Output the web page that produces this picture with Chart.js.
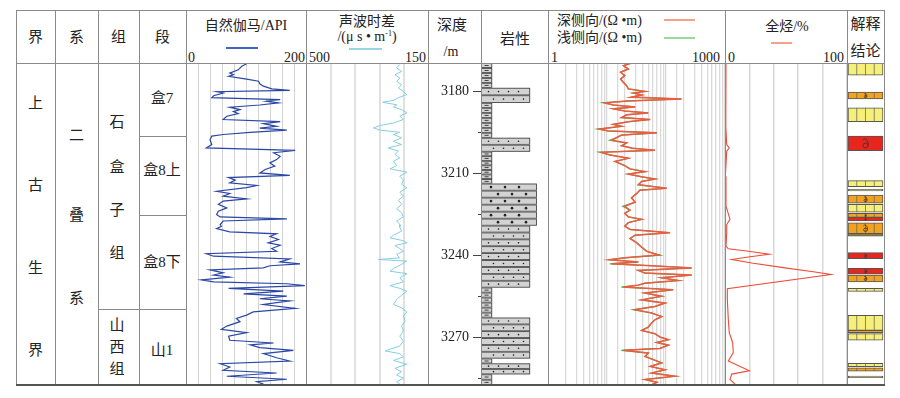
<!DOCTYPE html>
<html>
<head>
<meta charset="utf-8">
<title>测井综合解释图</title>
<script src="https://cdn.jsdelivr.net/npm/chart.js@4.4.1/dist/chart.umd.min.js"></script>
<style>
  body { margin: 0; background: #fff; }
  #page { position: relative; width: 900px; height: 398px; overflow: hidden;
          font-family: "Liberation Serif", "Noto Sans CJK SC", serif; color: #222; }
  .track { position: absolute; top: 63px; height: 322px; }
  .vl { position: absolute; top: 10px; height: 375px; width: 1px; background: #8a8a8a; z-index: 5; }
  .hl { position: absolute; height: 1px; background: #8a8a8a; z-index: 5; }
  .t { position: absolute; font-size: 15px; line-height: 1; white-space: nowrap; transform: translate(-50%, -50%); }
  .l { position: absolute; font-size: 14px; line-height: 1; white-space: nowrap; transform: translateY(-50%); }
  .r { position: absolute; font-size: 14px; line-height: 1; white-space: nowrap; transform: translate(-100%, -50%); }
  .key { position: absolute; height: 2px; }
</style>
</head>
<body>
<div id="page">
  <!-- header -->
  <div class="t" style="left:35.5px;top:37px">界</div>
  <div class="t" style="left:76.5px;top:37px">系</div>
  <div class="t" style="left:118.5px;top:37px">组</div>
  <div class="t" style="left:162.5px;top:37px">段</div>

  <div class="t" style="left:246px;top:26px;font-size:14px">自然伽马/API</div>
  <div class="key" style="left:226px;top:47px;width:32px;background:#4263c4"></div>
  <div class="l" style="left:188px;top:58px">0</div>
  <div class="r" style="left:305px;top:58px">200</div>

  <div class="t" style="left:367px;top:22px;font-size:14px">声波时差</div>
  <div class="t" style="left:367px;top:37px;font-size:14px">/(μ s • m<sup style="font-size:8px">-1</sup>)</div>
  <div class="key" style="left:349px;top:48px;width:33px;background:#9ad4e4"></div>
  <div class="l" style="left:309px;top:58px">500</div>
  <div class="r" style="left:426px;top:58px">150</div>

  <div class="t" style="left:452px;top:25px">深度</div>
  <div class="t" style="left:451px;top:52px;font-size:14px">/m</div>

  <div class="t" style="left:515px;top:39px">岩性</div>

  <div class="l" style="left:557px;top:21px">深侧向/(Ω •m)</div>
  <div class="key" style="left:664px;top:19px;width:31px;background:#f4a08a"></div>
  <div class="l" style="left:557px;top:38px">浅侧向/(Ω •m)</div>
  <div class="key" style="left:664px;top:37px;width:31px;background:#9bd89b"></div>
  <div class="l" style="left:551px;top:58px">1</div>
  <div class="r" style="left:720px;top:58px">1000</div>

  <div class="t" style="left:787px;top:27px;font-size:14px">全烃/%</div>
  <div class="key" style="left:771px;top:42px;width:21px;background:#f4a08a"></div>
  <div class="l" style="left:728px;top:58px">0</div>
  <div class="r" style="left:844px;top:58px">100</div>

  <div class="t" style="left:865.5px;top:24px">解释</div>
  <div class="t" style="left:865.5px;top:51px">结论</div>

  <!-- stratigraphy -->
  <div class="t" style="left:35.5px;top:103px">上</div>
  <div class="t" style="left:35.5px;top:185px">古</div>
  <div class="t" style="left:35.5px;top:268px">生</div>
  <div class="t" style="left:35.5px;top:350px">界</div>
  <div class="t" style="left:76.5px;top:135px">二</div>
  <div class="t" style="left:76.5px;top:215px">叠</div>
  <div class="t" style="left:76.5px;top:298px">系</div>
  <div class="t" style="left:117px;top:122px">石</div>
  <div class="t" style="left:117px;top:167px">盒</div>
  <div class="t" style="left:117px;top:210px">子</div>
  <div class="t" style="left:117px;top:253px">组</div>
  <div class="t" style="left:117px;top:325px">山</div>
  <div class="t" style="left:117px;top:347px">西</div>
  <div class="t" style="left:117px;top:369px">组</div>
  <div class="t" style="left:162px;top:98px">盒7</div>
  <div class="t" style="left:162px;top:170px">盒8上</div>
  <div class="t" style="left:162px;top:262px">盒8下</div>
  <div class="t" style="left:162px;top:350px">山1</div>

  <!-- tracks -->
  <div class="track" style="left:186px;width:120px"><canvas id="gamma"></canvas></div>
  <div class="track" style="left:306px;width:123px"><canvas id="sonic"></canvas></div>
  <div class="track" style="left:428px;width:120px"><canvas id="litho"></canvas></div>
  <div class="track" style="left:548px;width:177px"><canvas id="resist"></canvas></div>
  <div class="track" style="left:725px;width:122px"><canvas id="thc"></canvas></div>
  <div class="track" style="left:847px;width:37px"><canvas id="interp"></canvas></div>
</div>

<script>
// depth window of the plot, metres
const depthTop = 3169.5;
const depthBase = 3287.5;
const depthLabels = [3180, 3210, 3240, 3270];
const depthMinor = [3195, 3225, 3255, 3285];

// natural gamma, API
const gammaDepth = [3169.8,3170.7,3172.0,3173.2,3173.8,3174.4,3175.4,3176.2,3177.1,3178.0,3179.0,3179.5,3180.0,3180.5,3181.5,3182.2,3182.9,3183.5,3184.1,3184.9,3185.7,3186.6,3187.3,3188.0,3189.0,3190.2,3191.0,3191.7,3192.7,3193.4,3194.1,3194.9,3195.7,3196.3,3197.6,3199.4,3200.6,3201.5,3202.4,3203.7,3204.9,3206.1,3207.3,3208.5,3209.8,3210.7,3211.5,3212.4,3213.4,3214.4,3215.2,3216.5,3217.3,3218.3,3219.3,3220.1,3221.3,3222.6,3223.8,3225.0,3225.9,3226.6,3227.4,3228.7,
  3229.3,3230.2,3231.4,3232.1,3233.1,3234.2,3235.4,3236.3,3237.5,3238.5,3239.4,3240.3,3241.3,3242.4,3243.1,3243.8,3244.6,3245.3,3246.4,3247.2,3248.0,3249.0,3249.7,3250.4,3251.1,3252.1,3253.1,3254.1,3254.9,3255.9,3256.7,3258.0,3259.4,3260.7,3261.9,3263.1,3264.3,3265.9,3267.1,3268.3,3269.6,3271.1,3272.1,3272.8,3273.8,3274.8,3276.0,3277.5,3278.7,3279.7,3280.9,3282.1,3283.1,3284.3,3285.4,3286.3,3287.2];
const gammaValue = [101,93,87,73,79,71,101,121,123,129,143,173,51,62,46,43,157,134,154,123,73,90,79,87,68,62,157,129,151,123,168,107,62,43,40,43,34,182,146,157,151,140,148,132,123,173,71,82,73,118,101,51,73,62,101,62,54,68,54,51,57,168,62,57,
  59,51,73,151,140,154,137,157,143,151,34,46,173,157,190,140,129,40,62,46,73,26,46,168,198,71,162,96,168,123,173,129,182,112,101,84,90,68,59,101,71,73,146,107,123,179,129,151,173,57,73,62,151,68,168,118,129];

// acoustic slowness, µs/m
const sonicDepth = [3170.1,3171.3,3172.6,3173.8,3175.0,3176.2,3177.4,3178.7,3179.9,3181.1,3182.0,3183.2,3183.9,3184.8,3185.6,3186.6,3187.8,3189.0,3190.2,3191.5,3192.4,3193.3,3194.1,3194.9,3195.7,3196.9,3198.2,3199.4,3200.6,3201.8,3203.0,3204.3,3205.5,3207.1,3208.3,3209.5,3211.0,3212.4,3214.0,3215.2,3216.8,3218.3,3219.8,3221.3,3222.9,3224.4,3225.9,3227.4,3228.7,
  3229.7,3231.1,3232.6,3233.6,3234.6,3235.4,3236.4,3237.5,3238.5,3239.7,3240.9,3241.5,3242.1,3243.3,3244.8,3245.8,3246.7,3248.2,3249.7,3251.1,3252.1,3253.1,3254.6,3256.1,3258.0,3259.2,3260.7,3262.2,3264.1,3265.9,3267.7,3269.6,3271.4,3273.2,3275.0,3276.0,3277.2,3278.5,3279.9,3281.4,3282.6,3283.8,3285.0,3286.3,3287.2];
const sonicValue = [233,242,228,247,233,242,228,237,223,213,233,251,282,242,251,228,213,233,223,251,289,308,289,233,251,228,251,228,266,237,247,233,251,242,261,213,233,223,228,213,233,223,237,228,242,228,223,242,233,
  233,228,251,261,223,213,247,233,223,242,233,294,213,228,251,261,213,233,223,261,233,213,228,242,251,228,213,223,218,228,223,233,223,233,275,233,223,251,213,247,228,242,223,242,233];

// laterolog resistivity, ohm·m
const resDepth = [3169.5,3170.5,3171.7,3172.9,3174.1,3175.4,3176.6,3177.8,3179.0,3179.9,3180.5,3181.2,3182.0,3182.7,3183.4,3184.1,3184.9,3185.6,3186.3,3187.1,3187.8,3188.5,3189.5,3190.2,3191.0,3192.0,3192.7,3193.7,3194.4,3195.1,3195.9,3196.8,3197.8,3198.8,3199.8,3200.7,3201.5,3202.2,3203.2,3204.4,3205.6,3207.1,3208.3,3209.3,3210.2,3211.2,3212.0,3212.9,3214.1,3215.4,3216.1,3217.3,3218.9,3220.5,3222.0,3223.4,3224.6,3225.9,3226.8,3228.0,3229.3,
  3230.5,3231.7,3232.6,3233.8,3235.4,3237.0,3238.5,3239.9,3240.9,3241.6,3242.4,3243.1,3243.8,3244.6,3245.5,3246.5,3247.2,3248.2,3249.2,3250.2,3250.9,3251.6,3252.6,3253.8,3255.0,3256.3,3257.5,3258.7,3259.9,3261.1,3262.4,3263.6,3264.8,3266.3,3267.5,3268.7,3269.9,3270.9,3271.9,3272.9,3274.1,3274.8,3275.8,3277.0,3278.2,3279.4,3280.7,3281.9,3283.1,3284.3,3285.5,3286.5,3287.5];
const resDeep = [26,19,23,17,20,17,19,21.5,23,44,28,39,26,184,23,9.3,12.8,30,12.8,20,50,21.5,17.7,54,23,12.8,17.7,7.6,10.5,70,17.7,14.7,12,21.5,17.7,27,65,8.1,11.2,23,13.7,20,24.5,44,23,38.7,65,38.7,34,103,36,32,26,30,20,24.5,20,23,38.7,23,20,
  24.5,117,30,24.5,32,38.7,47,74,20,11.2,34,12,57,272,34,44,272,84.5,162,44,34,19,133,44,84.5,38.7,96,65,30,57,84.5,65,57,50,38.7,65,79,110,70,110,79,19,50,44,61,84.5,54,96,57,142,44,70,57];
const resShallow = [26,19,23,17,20,17,19,21.5,23,44,28,39,26,184,23,8.6,12.8,30,12.8,20,50,21.5,17.7,54,23,12.8,17.7,7.0,10.5,70,17.7,14.7,11.2,21.5,17.7,27,65,7.5,11.2,23,13.7,20,24.5,44,23,38.7,65,38.7,34,103,36,32,26,30,18.5,24.5,20,23,38.7,23,20,
  24.5,117,30,24.5,32,38.7,47,80,20,10.3,34,11.2,57,272,34,44,272,84.5,162,44,34,17.5,133,44,84.5,38.7,96,65,28,57,84.5,65,57,50,38.7,65,79,110,70,110,79,17.5,50,44,61,84.5,54,96,57,142,44,70,57];

// total hydrocarbon, %
const thcDepth = [3169.8,3180.5,3192.7,3199.4,3200.6,3201.8,3211.0,3222.0,3226.8,3228.7,3231.7,3236.6,3237.6,3238.4,3239.6,3240.5,3241.5,3242.9,3244.5,3246.0,3247.0,3252.2,3256.1,3263.4,3268.3,3272.0,3275.6,3278.7,3282.3,3283.5,3285.4,3287.2];
const thcValue = [0.8,0.5,0.8,1.4,3.5,1.4,0.3,0.8,4.1,1.4,1.4,0.8,2.7,17.8,36.3,20.5,5.5,23.2,47.8,72.4,86.9,1.9,1.9,2.7,3.5,6.3,6.8,2.7,20,5.5,4.1,8.2];

// lithology intervals
const lithoTop  = [3169.5,3178.6,3184.1,3196.9,3202.0,3213.7,3229.1,3251.8,3262.8,3277.8,3279.6,3283.6];
const lithoBase = [3178.6,3184.1,3196.9,3202.0,3213.7,3229.1,3251.8,3262.8,3277.8,3279.6,3283.6,3287.5];
const lithoType = ['泥岩','砂岩','泥岩','砂岩','泥岩','粗砂岩','砂岩','泥岩','砂岩','泥岩','砂岩','泥岩'];
const lithoGrain = { '泥岩': 1, '砂岩': 4.4, '粗砂岩': 5 };

// interpretation
const interpTop  = [3169.6,3180.2,3185.9,3196.3,3212.6,3215.8,3217.9,3221.3,3224.6,3226.1,3228.1,3232.0,3239.0,3244.7,3247.2,3252.1,3262.0,3267.5,3268.7,3279.6,3281.2,3284.2];
const interpBase = [3174.0,3182.7,3191.0,3201.6,3214.8,3216.4,3220.9,3224.2,3226.1,3227.4,3232.0,3233.0,3241.2,3246.9,3249.7,3253.2,3267.5,3268.3,3271.1,3280.8,3282.4,3284.8];
const interpClass = ['含气层','差气层','含气层','气层','含气层','干层','差气层','含气层','差气层','气层','差气层','干层','气层','气层','差气层','含气层','含气层','差气层','含气层','含气层','差气层','干层'];
const interpColors = { '含气层': '#f6ef78', '差气层': '#f3a21f', '气层': '#e8261e', '干层': '#948a45' };

// table rules
const page = document.getElementById('page');
[16, 55, 98, 139, 186, 306, 428, 481, 548, 725, 847, 884].forEach(x => {
  const d = document.createElement('div');
  d.className = 'vl';
  d.style.left = x + 'px';
  page.appendChild(d);
});
[[16, 884, 10], [16, 884, 63], [98, 186, 309], [139, 186, 136], [139, 186, 215]].forEach(([a, b, y]) => {
  const d = document.createElement('div');
  d.className = 'hl';
  d.style.left = a + 'px'; d.style.width = (b - a + 1) + 'px'; d.style.top = y + 'px';
  page.appendChild(d);
});
const bottomRule = document.createElement('div');
bottomRule.className = 'hl';
bottomRule.style.cssText = 'left:16px;width:869px;top:384px;height:2px;background:#555';
page.appendChild(bottomRule);

const depthAxis = { type: 'linear', reverse: true, min: depthTop, max: depthBase, display: false };

function curvePoints(depths, values) {
  return depths.map((d, i) => ({ x: values[i], y: d }));
}

function trackChart(id, xAxis, datasets) {
  return new Chart(document.getElementById(id), {
    type: 'scatter',
    data: { datasets: datasets },
    options: {
      animation: false,
      responsive: true,
      maintainAspectRatio: false,
      layout: { padding: 0 },
      plugins: { legend: { display: false }, tooltip: { enabled: false } },
      elements: { point: { radius: 0 }, line: { tension: 0 } },
      scales: { x: xAxis, y: depthAxis }
    }
  });
}

function gridAxis(extra, color, width) {
  return Object.assign({
    ticks: { display: false },
    grid: { color: color, lineWidth: width, drawTicks: false },
    border: { display: false }
  }, extra);
}

trackChart('gamma', gridAxis({ type: 'linear', min: 0, max: 200, ticks: { display: false, stepSize: 20 } }, '#d4d4d4', 1), [
  { data: curvePoints(gammaDepth, gammaValue), showLine: true, borderColor: '#2a47a6', borderWidth: 1.2 }
]);

trackChart('sonic', gridAxis({ type: 'linear', min: 150, max: 500, reverse: true, ticks: { display: false, stepSize: 70 } }, '#e0e0e0', 2), [
  { data: curvePoints(sonicDepth, sonicValue), showLine: true, borderColor: '#86cedc', borderWidth: 1 }
]);

// deep curve listed first so it is painted on top of the shallow one
trackChart('resist', gridAxis({ type: 'logarithmic', min: 1, max: 1000 }, '#dadada', 1.3), [
  { data: curvePoints(resDepth, resDeep), showLine: true, borderColor: '#ef5a42', borderWidth: 1.5 },
  { data: curvePoints(resDepth, resShallow), showLine: true, borderColor: '#3cb83c', borderWidth: 1.2 }
]);

trackChart('thc', gridAxis({ type: 'linear', min: 0, max: 100, ticks: { display: false, stepSize: 20 } }, '#d8d8d8', 1.5), [
  { data: curvePoints(thcDepth, thcValue), showLine: true, borderColor: '#ee4b36', borderWidth: 1.1 }
]);

// lithology column, drawn through the chart scales
const lithoPlugin = {
  id: 'lithoColumn',
  afterDatasetsDraw(chart) {
    const { ctx, scales: { x, y } } = chart;
    ctx.save();
    lithoTop.forEach((top, i) => {
      const kind = lithoType[i];
      const x0 = x.getPixelForValue(0), x1 = x.getPixelForValue(lithoGrain[kind]);
      const y0 = y.getPixelForValue(top), y1 = y.getPixelForValue(lithoBase[i]);
      const rowH = kind === '泥岩' ? 4.7 : 6.9;
      const n = Math.max(1, Math.round((y1 - y0) / rowH));
      const h = (y1 - y0) / n;
      for (let k = 0; k < n; k++) {
        const ry = y0 + k * h;
        ctx.fillStyle = '#d3d3d3';
        ctx.fillRect(x0, ry, x1 - x0, h);
        ctx.strokeStyle = '#3a3a3a';
        ctx.lineWidth = 0.8;
        ctx.strokeRect(x0 + 0.4, ry + 0.4, x1 - x0 - 0.8, h - 0.8);
        ctx.fillStyle = '#222';
        if (kind === '泥岩') {
          ctx.fillRect((x0 + x1) / 2 - 2, ry + h / 2 - 0.4, 4, 0.8);
        } else {
          const coarse = kind === '粗砂岩';
          const step = coarse ? 14 : 10;
          const r = coarse ? 1.3 : 0.8;
          for (let dx = x0 + (coarse ? 10 : 7.5) + (k % 2 ? step / 2 : 0); dx < x1 - 4; dx += step) {
            ctx.beginPath();
            ctx.arc(dx, ry + h / 2, r, 0, Math.PI * 2);
            ctx.fill();
          }
        }
      }
    });
    ctx.restore();
  }
};

new Chart(document.getElementById('litho'), {
  type: 'scatter',
  data: { datasets: [] },
  options: {
    animation: false,
    responsive: true,
    maintainAspectRatio: false,
    layout: { padding: 0 },
    plugins: { legend: { display: false }, tooltip: { enabled: false } },
    scales: {
      x: { type: 'linear', min: 0, max: 6, display: false },
      y: {
        type: 'linear', reverse: true, min: depthTop, max: depthBase, position: 'left', weight: 1,
        afterBuildTicks: s => { s.ticks = depthLabels.map(v => ({ value: v })); },
        afterFit: s => { s.width = 53; s.paddingTop = 0; s.paddingBottom = 0; },
        ticks: { callback: v => String(v), color: '#222', padding: 4, font: { family: 'Liberation Serif', size: 14 } },
        grid: { drawOnChartArea: false, tickLength: 8, color: '#444' },
        border: { display: true, color: '#8a8a8a' }
      },
      y2: {
        type: 'linear', reverse: true, min: depthTop, max: depthBase, position: 'left', weight: 0,
        afterBuildTicks: s => { s.ticks = depthMinor.map(v => ({ value: v })); },
        afterFit: s => { s.width = 0; s.paddingTop = 0; s.paddingBottom = 0; },
        ticks: { display: false },
        grid: { drawOnChartArea: false, tickLength: 3, color: '#444' },
        border: { display: false }
      }
    }
  },
  plugins: [lithoPlugin]
});

// interpretation column: floating bars plus dividers and gas marks
function gasMark(ctx, cx, cy, s) {
  ctx.beginPath();
  ctx.ellipse(cx, cy + s * 0.35, s * 0.42, s * 0.38, 0, 0, Math.PI * 2);
  ctx.moveTo(cx + s * 0.42, cy + s * 0.35);
  ctx.bezierCurveTo(cx + s * 0.55, cy - s * 0.5, cx - s * 0.1, cy - s * 1.0, cx - s * 0.45, cy - s * 0.55);
  ctx.stroke();
}

const interpPlugin = {
  id: 'interpMarks',
  afterDatasetsDraw(chart) {
    const ctx = chart.ctx;
    chart.getDatasetMeta(0).data.forEach((bar, i) => {
      const p = bar.getProps(['x', 'y', 'base', 'width'], true);
      const top = Math.min(p.y, p.base), h = Math.abs(p.base - p.y), left = p.x - p.width / 2;
      const cls = interpClass[i];
      ctx.save();
      ctx.lineWidth = 0.8;
      if ((cls === '含气层' || cls === '差气层') && h > 3) {
        ctx.strokeStyle = '#6b6b5a';
        for (let k = 1; k < 4; k++) {
          ctx.beginPath();
          ctx.moveTo(left + p.width * k / 4, top);
          ctx.lineTo(left + p.width * k / 4, top + h);
          ctx.stroke();
        }
      }
      if ((cls === '差气层' || cls === '气层') && h > 3.5) {
        ctx.strokeStyle = '#333';
        gasMark(ctx, p.x, top + h / 2, Math.min(h * 0.42, 6.5));
      }
      ctx.restore();
    });
  }
};

new Chart(document.getElementById('interp'), {
  type: 'bar',
  data: {
    datasets: [{
      data: interpTop.map((t, i) => ({ x: 0.5, y: [t, interpBase[i]] })),
      backgroundColor: interpClass.map(c => interpColors[c]),
      borderColor: '#555',
      borderWidth: 1,
      borderSkipped: false,
      barThickness: 35
    }]
  },
  options: {
    animation: false,
    responsive: true,
    maintainAspectRatio: false,
    layout: { padding: 0 },
    plugins: { legend: { display: false }, tooltip: { enabled: false } },
    scales: {
      x: { type: 'linear', min: 0, max: 1, offset: false, display: false },
      y: depthAxis
    }
  },
  plugins: [interpPlugin]
});
</script>
</body>
</html>
